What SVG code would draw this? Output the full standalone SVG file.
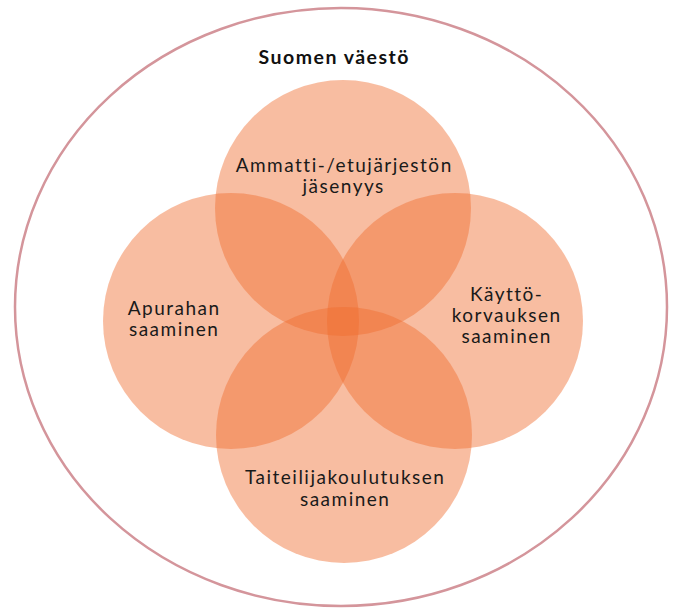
<svg xmlns="http://www.w3.org/2000/svg" width="678" height="609" viewBox="0 0 678 609">
<style>
.set{fill:#ef6d2f;fill-opacity:0.45}
.lbl{font-family:Lato,"Liberation Sans",sans-serif;font-size:19px;letter-spacing:1.5px;fill:#1a1a1a;text-anchor:middle}
.title{font-family:Lato,"Liberation Sans",sans-serif;font-size:19.5px;letter-spacing:1.5px;font-weight:bold;fill:#111;text-anchor:middle}
</style>
<rect width="678" height="609" fill="#fff"/>
<g id="population">
<ellipse cx="341" cy="307" rx="326" ry="299" fill="none" stroke="#d4959b" stroke-width="2.5"/>
<text class="title" x="334.2" y="64">Suomen väestö</text>
</g>
<g id="union">
<circle class="set" cx="343" cy="208" r="128"/>
</g>
<g id="grant">
<circle class="set" cx="231" cy="321" r="128"/>
</g>
<g id="compensation">
<circle class="set" cx="455" cy="321" r="128"/>
</g>
<g id="education">
<circle class="set" cx="344" cy="435" r="128"/>
</g>
<g id="labels">
<text class="lbl" x="344.2" y="172">Ammatti-/etujärjestön</text>
<text class="lbl" x="343.7" y="193">jäsenyys</text>
<text class="lbl" x="174.2" y="315">Apurahan</text>
<text class="lbl" x="174.2" y="336">saaminen</text>
<text class="lbl" x="506.7" y="301">Käyttö-</text>
<text class="lbl" x="506.7" y="322">korvauksen</text>
<text class="lbl" x="506.7" y="343">saaminen</text>
<text class="lbl" x="345.2" y="484">Taiteilijakoulutuksen</text>
<text class="lbl" x="345.2" y="506">saaminen</text>
</g>
<g id="connectors"></g>
</svg>
